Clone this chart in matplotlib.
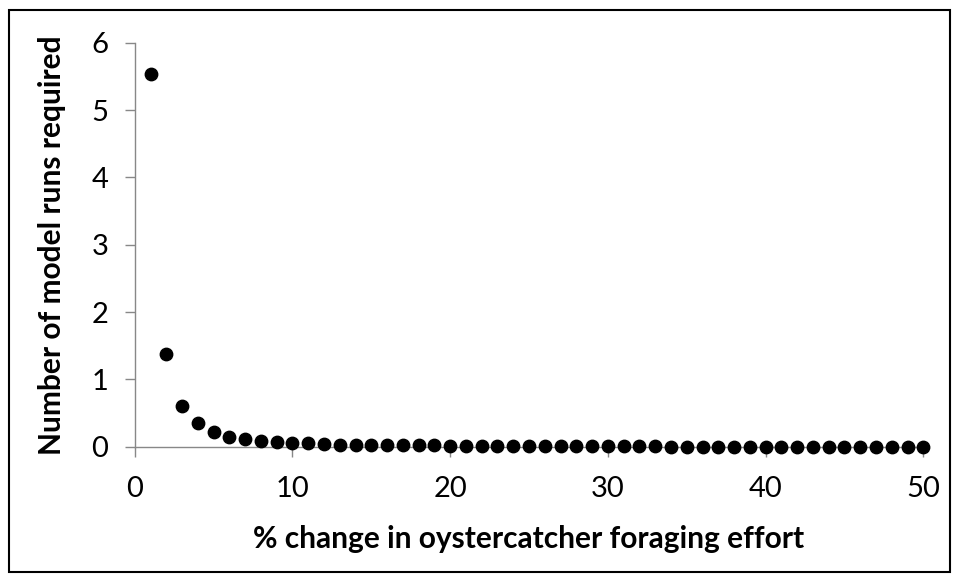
import matplotlib
matplotlib.use('Agg')
import matplotlib.pyplot as plt
from matplotlib.patches import Rectangle

# --------- 資料: % change vs runs required
pct_change = list(range(1, 51))
runs_required = [5.53, 1.38, 0.61, 0.35, 0.22, 0.15, 0.11, 0.09, 0.07, 0.06,
                 0.05, 0.04, 0.03, 0.03, 0.02, 0.02, 0.02, 0.02, 0.02, 0.01,
                 0.01, 0.01, 0.01, 0.01, 0.01, 0.01, 0.01, 0.01, 0.01, 0.01,
                 0.01, 0.01, 0.01, 0.00, 0.00, 0.00, 0.00, 0.00, 0.00, 0.00,
                 0.00, 0.00, 0.00, 0.00, 0.00, 0.00, 0.00, 0.00, 0.00, 0.00]
x_ticks = [0, 10, 20, 30, 40, 50]
y_ticks = [0, 1, 2, 3, 4, 5, 6]

plt.rcParams['font.family'] = ['Lato', 'DejaVu Sans']

fig = plt.figure(figsize=(9.59, 5.8), dpi=100)
# outer frame
fig.patches.append(Rectangle((0.009, 0.014), 0.982, 0.969, transform=fig.transFigure,
                             fill=False, edgecolor='black', linewidth=1.5))

ax = fig.add_axes([0.1405, 0.2298, 0.8223, 0.6966])
ax.scatter(pct_change, runs_required, s=80, color='black', zorder=3, clip_on=False)

ax.set_xlim(0, 50)
ax.set_ylim(0, 6)
ax.set_xticks(x_ticks)
ax.set_yticks(y_ticks)
for side in ['top', 'right']:
    ax.spines[side].set_visible(False)
for side in ['left', 'bottom']:
    ax.spines[side].set_color('#888888')
    ax.spines[side].set_linewidth(1)
ax.tick_params(axis='both', direction='out', length=7, width=1, color='#888888',
               labelsize=21)
ax.tick_params(axis='x', pad=14)
ax.tick_params(axis='y', pad=12)

ax.set_xlabel('% change in oystercatcher foraging effort', fontsize=21.5, fontweight='bold', labelpad=17)
ax.set_ylabel('Number of model runs required', fontsize=21.5, fontweight='bold', labelpad=18)

plt.savefig('out.png', dpi=100)
plt.close()
